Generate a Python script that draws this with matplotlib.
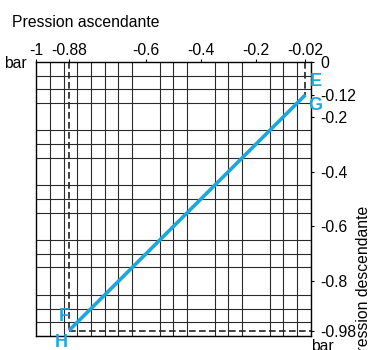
import numpy as np
import matplotlib.pyplot as plt

plt.rcParams['font.family'] = ['Liberation Sans', 'DejaVu Sans']

# pressions (bar)
x_ticks = [-1, -0.88, -0.6, -0.4, -0.2, -0.02]
x_labels = ['-1', '-0.88', '-0.6', '-0.4', '-0.2', '-0.02']
y_ticks = [0, -0.12, -0.2, -0.4, -0.6, -0.8, -0.98]
y_labels = ['0', '-0.12', '-0.2', '-0.4', '-0.6', '-0.8', '-0.98']

# droite H -> G
line_x = [-0.88, -0.02]
line_y = [-0.98, -0.12]

# points reperes
pt_names = ['E', 'G', 'F', 'H']
pt_x = [0.018, 0.015, -0.897, -0.91]
pt_y = [-0.07, -0.16, -0.93, -1.025]

blue = '#1aa7e0'

fig = plt.figure(figsize=(3.69, 3.5), dpi=100)
ax = fig.add_axes([0.0976, 0.04, 0.745, 0.783])
ax.set_xlim(-1, 0)
ax.set_ylim(-1, 0)

# grille
ax.set_xticks(np.arange(-1, 0.001, 0.05), minor=True)
ax.set_yticks(np.arange(-1, 0.001, 0.05), minor=True)
ax.grid(True, which='minor', color='#2a2a2a', lw=0.8)
ax.tick_params(which='minor', length=0)

ax.set_xticks(x_ticks)
ax.set_xticklabels(x_labels)
ax.set_yticks(y_ticks)
ax.set_yticklabels(y_labels)
ax.xaxis.tick_top()
ax.yaxis.tick_right()
ax.tick_params(which='major', length=2.5, width=0.8, labelsize=11.3, pad=0.5)
ax.tick_params(axis='y', pad=4)
for s in ax.spines.values():
    s.set_linewidth(1.0)

# pointilles
dash = dict(color='#222222', lw=1.2, ls=(0, (4, 2)))
ax.plot([-0.88, -0.88], [0, -0.98], **dash)
ax.plot([-0.88, 0], [-0.98, -0.98], **dash)
ax.plot([-0.02, -0.02], [0, -0.12], **dash)

ax.plot(line_x, line_y, color=blue, lw=2.6, solid_capstyle='butt')

for n, px, py in zip(pt_names, pt_x, pt_y):
    ax.text(px, py, n, color=blue, fontsize=13, fontweight='bold',
            ha='center', va='center', clip_on=False)

fig.text(0.032, 0.935, 'Pression ascendante', fontsize=11.3, ha='left', va='center')
fig.text(0.073, 0.82, 'bar', fontsize=11.3, ha='right', va='center')
fig.text(0.873, 0.01, 'bar', fontsize=11.3, ha='center', va='center')
fig.text(0.984, 0.19, 'Pression descendante', fontsize=11.3, rotation=90,
         ha='center', va='center')

fig.savefig('out.png', dpi=100)
